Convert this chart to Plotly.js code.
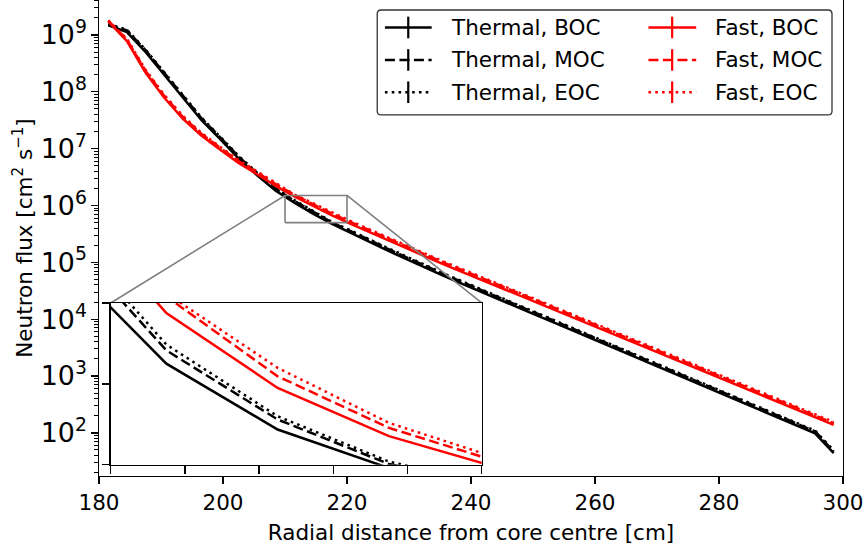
<!DOCTYPE html>
<html><head><meta charset="utf-8">
<script src="https://cdn.plot.ly/plotly-3.0.1.min.js"></script>
<style>html,body{margin:0;padding:0;background:#fff}</style>
</head><body><div id="chart" style="width:865px;height:551px"></div>
<script>
// ---- data ----
const radius = [181.5,184.5,187.5,190.5,193.5,196.5,199.5,202.5,205.5,208.5,
  211.5,214.5,217.5,220.5,223.5,226.5,229.5,232.5,235.5,238.5,
  241.5,244.5,247.5,250.5,253.5,256.5,259.5,262.5,265.5,268.5,
  271.5,274.5,277.5,280.5,283.5,286.5,289.5,292.5,295.5,298.5];

const thermalBOC = [1.48e9,1.12e9,5.01e8,2.00e8,7.76e7,3.20e7,1.48e7,6.76e6,3.39e6,1.82e6,
  1.125e6,7.18e5,4.80e5,3.31e5,2.29e5,1.62e5,1.15e5,8.13e4,5.82e4,4.22e4,
  3.09e4,2.24e4,1.63e4,1.18e4,8.59e3,6.24e3,4.53e3,3.29e3,2.39e3,1.73e3,
  1.26e3,914,664,482,350,254,185,134,98,44];
const thermalMOC = [1.52e9,1.20e9,5.41e8,2.16e8,8.38e7,3.46e7,1.60e7,7.30e6,3.66e6,1.97e6,
  1.207e6,7.80e5,5.05e5,3.57e5,2.47e5,1.75e5,1.24e5,8.78e4,6.29e4,4.56e4,
  3.34e4,2.42e4,1.76e4,1.27e4,9.28e3,6.74e3,4.89e3,3.55e3,2.58e3,1.87e3,
  1.36e3,987,717,521,378,274,200,145,106,47];
const thermalEOC = [1.55e9,1.24e9,5.56e8,2.22e8,8.61e7,3.55e7,1.64e7,7.50e6,3.76e6,2.02e6,
  1.243e6,8.00e5,5.20e5,3.67e5,2.54e5,1.80e5,1.28e5,9.02e4,6.46e4,4.68e4,
  3.43e4,2.49e4,1.81e4,1.31e4,9.53e3,6.93e3,5.03e3,3.65e3,2.65e3,1.92e3,
  1.40e3,1015,737,535,389,282,205,149,109,49];
const fastBOC = [1.74e9,7.80e8,2.19e8,7.94e7,3.39e7,1.70e7,9.66e6,5.62e6,3.55e6,2.21e6,
  1.438e6,9.75e5,6.77e5,4.79e5,3.43e5,2.45e5,1.78e5,1.29e5,9.33e4,6.84e4,
  5.07e4,3.72e4,2.72e4,2.00e4,1.46e4,1.07e4,7.85e3,5.75e3,4.22e3,3.09e3,
  2.26e3,1.66e3,1.22e3,891,653,479,351,257,188,138];
const fastMOC = [1.78e9,8.30e8,2.35e8,8.54e7,3.64e7,1.83e7,1.04e7,6.04e6,3.82e6,2.38e6,
  1.54e6,1.047e6,7.28e5,5.15e5,3.69e5,2.63e5,1.91e5,1.39e5,1.00e5,7.35e4,
  5.45e4,4.00e4,2.92e4,2.15e4,1.57e4,1.15e4,8.44e3,6.18e3,4.54e3,3.32e3,
  2.43e3,1.78e3,1.31e3,958,702,515,377,276,202,148];
const fastEOC = [1.80e9,8.60e8,2.45e8,8.89e7,3.80e7,1.90e7,1.08e7,6.29e6,3.98e6,2.48e6,
  1.56e6,1.099e6,7.59e5,5.36e5,3.84e5,2.74e5,1.99e5,1.44e5,1.04e5,7.66e4,
  5.68e4,4.17e4,3.05e4,2.24e4,1.64e4,1.20e4,8.79e3,6.44e3,4.73e3,3.46e3,
  2.53e3,1.86e3,1.37e3,998,731,536,393,288,211,155];

const seriesNames = ["Thermal, BOC","Thermal, MOC","Thermal, EOC","Fast, BOC","Fast, MOC","Fast, EOC"];
const xTickVals = [180,200,220,240,260,280,300];
const xTitle = "Radial distance from core centre [cm]";
const yTitle = "Neutron flux [cm<sup>2</sup> s<sup>\u22121</sup>]";

// ---- layout constants ----
const W=865, H=551;
const M={l:99.3, r:22.3, t:0, b:74.5};
const PW=W-M.l-M.r, PH=H-M.t-M.b;
const xRange=[180,300];
const yRangeLog=[1.241,9.615];
const insetX=[210,220], insetY=[5e5,1.5e6];
const insetDomX=[(111-M.l)/PW,(481.7-M.l)/PW];
const insetDomY=[1-465.3/PH,1-303.3/PH];
const FONT="DejaVu Sans";
const FS=21.5;
const LW=2.5;
const DASH={solid:"solid", dash:"10px,4.5px", dot:"2.6px,4.2px"};

const data=[thermalBOC,thermalMOC,thermalEOC,fastBOC,fastMOC,fastEOC];
const colors=["#000000","#000000","#000000","#ff0000","#ff0000","#ff0000"];
const dashes=[DASH.solid,DASH.dash,DASH.dot,DASH.solid,DASH.dash,DASH.dot];

const traces=[];
data.forEach((ys,i)=>{
  traces.push({x:radius,y:ys,type:"scatter",mode:"lines",name:seriesNames[i],
    line:{color:colors[i],width:LW,dash:dashes[i]},xaxis:"x",yaxis:"y",showlegend:false,hoverinfo:"skip"});
});
// zoom indicator rectangle and connectors (main axes)
const gray="#808080";
traces.push({x:[insetX[0],insetX[1],insetX[1],insetX[0],insetX[0]],
  y:[insetY[0],insetY[0],insetY[1],insetY[1],insetY[0]],
  type:"scatter",mode:"lines",line:{color:gray,width:1.6},showlegend:false,hoverinfo:"skip",xaxis:"x",yaxis:"y"});
const cornerX0 = xRange[0]+insetDomX[0]*(xRange[1]-xRange[0]);
const cornerX1 = xRange[0]+insetDomX[1]*(xRange[1]-xRange[0]);
const cornerY = Math.pow(10, yRangeLog[0]+insetDomY[1]*(yRangeLog[1]-yRangeLog[0]));
traces.push({x:[insetX[0],cornerX0],y:[insetY[1],cornerY],type:"scatter",mode:"lines",
  line:{color:gray,width:1.6},showlegend:false,hoverinfo:"skip",xaxis:"x",yaxis:"y"});
traces.push({x:[insetX[1],cornerX1],y:[insetY[1],cornerY],type:"scatter",mode:"lines",
  line:{color:gray,width:1.6},showlegend:false,hoverinfo:"skip",xaxis:"x",yaxis:"y"});
// inset traces
data.forEach((ys,i)=>{
  traces.push({x:radius,y:ys,type:"scatter",mode:"lines",
    line:{color:colors[i],width:LW,dash:dashes[i]},xaxis:"x2",yaxis:"y2",showlegend:false,hoverinfo:"skip"});
});

// ---- custom legend (matplotlib style) ----
const px2x = p => (p-M.l)/PW;
const px2y = p => 1-(p-M.t)/PH;
const shapes=[], annotations=[];
const bx0=377.3,bx1=831.7,by0=10,by1=115,rr=4;
const rx=rr/PW, ry=rr/PH;
const X0=px2x(bx0),X1=px2x(bx1),Y0=px2y(by0),Y1=px2y(by1);
shapes.push({type:"path",xref:"paper",yref:"paper",
  path:`M ${X0+rx},${Y0} L ${X1-rx},${Y0} Q ${X1},${Y0} ${X1},${Y0-ry} L ${X1},${Y1+ry} Q ${X1},${Y1} ${X1-rx},${Y1} L ${X0+rx},${Y1} Q ${X0},${Y1} ${X0},${Y1+ry} L ${X0},${Y0-ry} Q ${X0},${Y0} ${X0+rx},${Y0} Z`,
  fillcolor:"rgba(255,255,255,0.9)",line:{color:"#333333",width:1.3},layer:"above"});
const rows=[27.5,60,92.3];
const cols=[{s0:385,s1:431.7,bar:408.3,tx:449},{s0:648.3,s1:696,bar:672,tx:713.3}];
seriesNames.forEach((nm,i)=>{
  const c=cols[i<3?0:1], ry0=rows[i%3];
  shapes.push({type:"line",xref:"paper",yref:"paper",x0:px2x(c.s0),x1:px2x(c.s1),y0:px2y(ry0),y1:px2y(ry0),
    line:{color:colors[i],width:LW,dash:dashes[i]},layer:"above"});
  shapes.push({type:"line",xref:"paper",yref:"paper",x0:px2x(c.bar),x1:px2x(c.bar),y0:px2y(ry0-10.8),y1:px2y(ry0+10.8),
    line:{color:colors[i],width:2.2},layer:"above"});
  annotations.push({text:nm,xref:"paper",yref:"paper",x:px2x(c.tx),y:px2y(ry0),xanchor:"left",yanchor:"middle",
    showarrow:false,font:{family:FONT,size:FS,color:"#000"}});
});

const axisCommon={showgrid:false,zeroline:false,showline:true,linecolor:"#000",linewidth:1.3,
  ticks:"outside",tickcolor:"#000",tickwidth:1.3,tickfont:{family:FONT,size:FS,color:"#000"}};

const layout={
  width:W,height:H,margin:M,paper_bgcolor:"#fff",plot_bgcolor:"#fff",showlegend:false,
  font:{family:FONT,size:FS,color:"#000"},
  xaxis:Object.assign({},axisCommon,{range:xRange,tickmode:"array",tickvals:xTickVals,ticklen:6.5,mirror:false,
    title:{text:xTitle,font:{family:FONT,size:FS,color:"#000"},standoff:11}}),
  yaxis:Object.assign({},axisCommon,{type:"log",range:yRangeLog,dtick:1,exponentformat:"power",showexponent:"all",
    ticklen:6.5,mirror:true,
    minor:{ticks:"outside",ticklen:3.5,tickwidth:1,tickcolor:"#000",dtick:"D1",showgrid:false},
    title:{text:yTitle,font:{family:FONT,size:FS,color:"#000"},standoff:2}}),
  xaxis2:Object.assign({},axisCommon,{domain:insetDomX,anchor:"y2",range:insetX,tick0:210,dtick:2,
    showticklabels:false,ticklen:7.5,mirror:true}),
  yaxis2:Object.assign({},axisCommon,{domain:insetDomY,anchor:"x2",range:insetY,tick0:5e5,dtick:5e5,
    showticklabels:false,ticklen:7.5,mirror:true}),
  shapes:shapes,annotations:annotations
};
Plotly.newPlot("chart",traces,layout,{staticPlot:true,displayModeBar:false});
</script></body></html>
